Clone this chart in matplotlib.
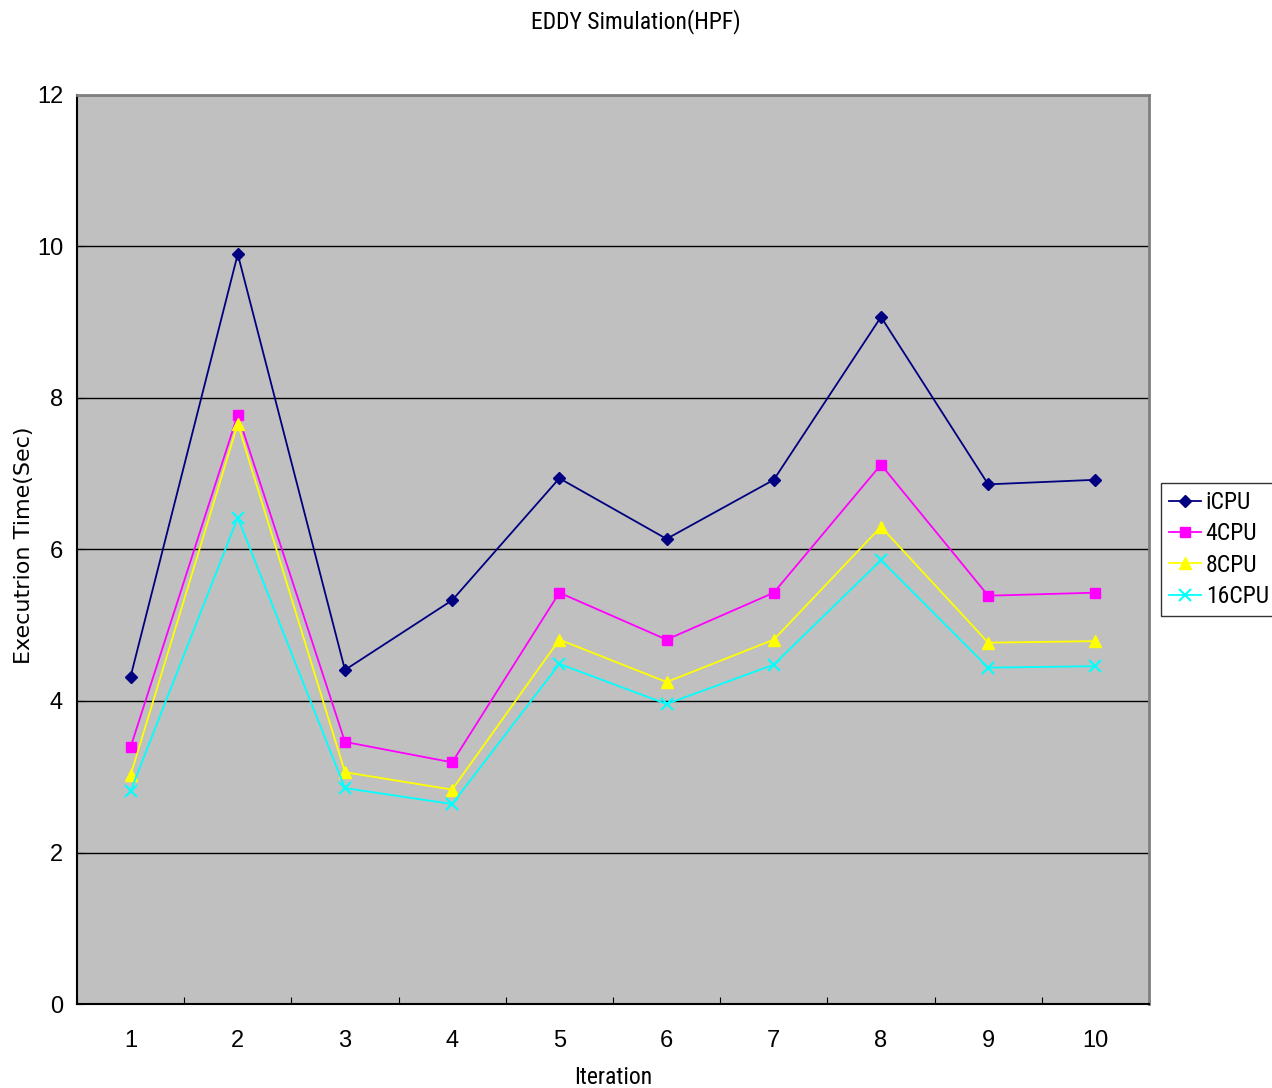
import numpy as np
import matplotlib.pyplot as plt
from matplotlib.ticker import FixedLocator

# Execution time per iteration for each CPU count
iterations = [1, 2, 3, 4, 5, 6, 7, 8, 9, 10]
t_1cpu = [4.32, 9.90, 4.41, 5.33, 6.94, 6.14, 6.92, 9.07, 6.86, 6.92]
t_4cpu = [3.39, 7.78, 3.46, 3.19, 5.43, 4.81, 5.43, 7.12, 5.39, 5.43]
t_8cpu = [3.02, 7.66, 3.06, 2.83, 4.81, 4.25, 4.81, 6.30, 4.77, 4.79]
t_16cpu = [2.81, 6.42, 2.85, 2.64, 4.49, 3.96, 4.48, 5.86, 4.44, 4.46]
labels = ['iCPU', '4CPU', '8CPU', '16CPU']

plt.rcParams['font.family'] = ['Liberation Sans', 'DejaVu Sans']
narrow = ['Roboto Condensed', 'DejaVu Sans']

fig = plt.figure(figsize=(12.72, 10.88), dpi=100)
ax = fig.add_axes([0.0605, 0.0772, 0.8428, 0.8355])
ax.set_facecolor('#c0c0c0')

x = np.array(iterations)
ax.plot(x, t_1cpu, color='#000080', marker='D', markersize=6, lw=1.3, label=labels[0])
ax.plot(x, t_4cpu, color='#ff00ff', marker='s', markersize=7, lw=1.3, label=labels[1])
ax.plot(x, t_8cpu, color='#ffff00', marker='^', markersize=8, lw=1.3, label=labels[2])
ax.plot(x, t_16cpu, color='#00ffff', marker='x', markersize=8, mew=1.5, lw=1.3, label=labels[3])

ax.set_xlim(0.5, len(iterations) + 0.5)
ax.set_ylim(0, 12)
ax.set_yticks(np.arange(0, 13, 2))
ax.yaxis.grid(True, color='black', lw=1)
ax.set_axisbelow(True)

# category boundaries get tick marks, centers get labels
ax.xaxis.set_major_locator(FixedLocator(np.arange(0.5, len(iterations) + 1, 1)))
ax.set_xticklabels([])
ax.xaxis.set_minor_locator(FixedLocator(x))
ax.set_xticklabels([str(i) for i in iterations], minor=True)
ax.tick_params(axis='x', which='major', length=5, direction='in', color='black')
ax.tick_params(axis='x', which='minor', length=0, pad=19, labelsize=17)
ax.tick_params(axis='y', length=5, direction='in', labelsize=17, pad=10, color='black')

# dark left/bottom axis lines, grey frame on the other two sides
for side in ('top', 'right'):
    ax.spines[side].set_color('#808080')
    ax.spines[side].set_linewidth(2)
for side in ('left', 'bottom'):
    ax.spines[side].set_color('black')
    ax.spines[side].set_linewidth(1.5)

ax.set_xlabel('Iteration', fontsize=17, labelpad=10, family=narrow)
ax.set_ylabel('Executrion Time(Sec)', fontsize=16, family=['DejaVu Sans'])
ax.yaxis.set_label_coords(-0.040, 0.505)
fig.suptitle('EDDY Simulation(HPF)', y=0.992, fontsize=17, family=narrow)

leg = ax.legend(loc='center left', bbox_to_anchor=(1.011, 0.5), frameon=True,
                fancybox=False, edgecolor='black', handlelength=1.35,
                handletextpad=0.2, borderpad=0.35, labelspacing=0.35,
                borderaxespad=0, prop={'family': narrow, 'size': 17})
leg.get_frame().set_linewidth(1)

fig.savefig('out.png', dpi=100)
